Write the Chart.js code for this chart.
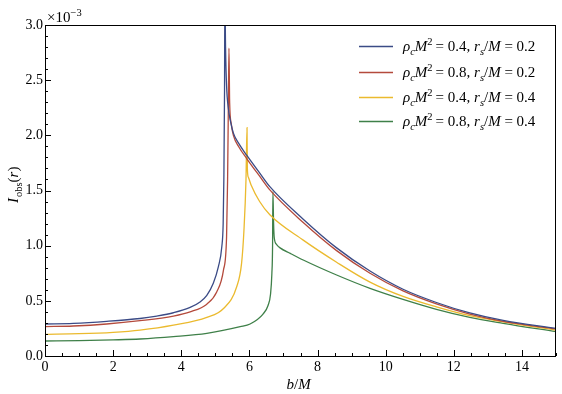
<!DOCTYPE html>
<html>
<head>
<meta charset="utf-8">
<script src="https://cdn.jsdelivr.net/npm/chart.js@4.4.1/dist/chart.umd.min.js"></script>
<style>
  html, body { margin: 0; padding: 0; background: #fff; }
  #wrap { width: 562px; height: 394px; }
</style>
</head>
<body>
<div id="wrap"><canvas id="chart"></canvas></div>
<script>
// intensity I_obs in units of 1e-3, b in units of M
const b1 = [0, 0.83, 1.81, 2.79, 3.28, 3.77, 4.26, 4.55, 4.75, 4.94, 5.09, 5.19, 5.23, 5.25, 5.27, 5.28, 5.30, 5.33, 5.38, 5.45, 5.53, 5.7, 5.92, 6.31, 6.6, 7.58, 8.56, 9.54, 10.51, 11.49, 12.47, 13.45, 15]
const i1 = [0.29, 0.296, 0.314, 0.34, 0.362, 0.392, 0.44, 0.49, 0.55, 0.66, 0.81, 0.99, 1.2, 1.6, 2.4, 3.3, 2.8, 2.45, 2.25, 2.12, 2.02, 1.92, 1.82, 1.655, 1.535, 1.24, 0.98, 0.77, 0.605, 0.485, 0.39, 0.322, 0.25]

const b2 = [0, 0.83, 1.81, 2.79, 3.77, 4.26, 4.75, 5.04, 5.24, 5.33, 5.36, 5.38, 5.40, 5.42, 5.47, 5.53, 5.7, 5.92, 6.31, 6.6, 7.58, 8.56, 9.54, 10.51, 11.49, 12.47, 13.45, 15]
const i2 = [0.266, 0.272, 0.29, 0.32, 0.362, 0.40, 0.47, 0.58, 0.78, 1.08, 1.6, 2.2, 2.79, 2.3, 2.1, 2.0, 1.89, 1.79, 1.625, 1.505, 1.21, 0.955, 0.75, 0.59, 0.472, 0.38, 0.314, 0.245]

const b3 = [0, 1, 2, 2.79, 3.77, 4.75, 5.24, 5.63, 5.77, 5.84, 5.9, 5.93, 5.94, 5.97, 6.05, 6.3, 6.6, 7.58, 8.56, 9.54, 10.51, 11.49, 12.47, 13.45, 15]
const i3 = [0.196, 0.202, 0.215, 0.235, 0.28, 0.35, 0.43, 0.63, 0.84, 1.14, 1.6, 2.07, 1.7, 1.62, 1.55, 1.40, 1.28, 1.05, 0.85, 0.67, 0.54, 0.445, 0.365, 0.31, 0.235]

const b4 = [0, 1, 2, 2.79, 3.77, 4.75, 5.73, 6.02, 6.4, 6.55, 6.62, 6.66, 6.68, 6.69, 6.71, 6.73, 6.8, 6.9, 7.2, 7.58, 8.56, 9.54, 10.51, 11.49, 12.47, 13.45, 15]
const i4 = [0.136, 0.139, 0.146, 0.154, 0.175, 0.205, 0.266, 0.29, 0.38, 0.46, 0.56, 0.75, 1.0, 1.49, 1.2, 1.07, 1.01, 0.98, 0.93, 0.87, 0.734, 0.613, 0.513, 0.423, 0.35, 0.296, 0.22]

const rhoValues = ['0.4', '0.8', '0.4', '0.8']
const rsValues = ['0.2', '0.2', '0.4', '0.4']
const colors = ['#3b4b86', '#b44a3c', '#ebba2e', '#3f8049']

const xTicks = [0, 2, 4, 6, 8, 10, 12, 14]
const yTicks = [0, 0.5, 1.0, 1.5, 2.0, 2.5, 3.0]

const serif = "'Liberation Serif', 'DejaVu Serif', serif"

const toPoints = (bs, is) => bs.map((b, k) => ({ x: b, y: is[k] }))
const series = [[b1, i1], [b2, i2], [b3, i3], [b4, i4]]

function drawRich(ctx, x, y, parts, size) {
  let cx = x
  parts.forEach(p => {
    const s = p.sub || p.sup ? size * 0.7 : size
    ctx.font = (p.it ? 'italic ' : '') + s + 'px ' + serif
    let dy = 0
    if (p.sub) dy = size * 0.28
    if (p.sup) dy = -size * 0.42
    ctx.fillText(p.t, cx, y + dy)
    cx += ctx.measureText(p.t).width + (p.gap || 0)
  })
  return cx
}

const decor = {
  id: 'decor',
  afterDraw(chart) {
    const ctx = chart.ctx
    const a = chart.chartArea
    const xs = chart.scales.x
    const ys = chart.scales.y
    ctx.save()
    ctx.strokeStyle = '#000'
    ctx.lineWidth = 1
    ctx.strokeRect(Math.round(a.left) + 0.5, Math.round(a.top) + 0.5, Math.round(a.right - a.left) - 1, Math.round(a.bottom - a.top))

    // inward ticks, bottom and left
    ctx.beginPath()
    for (let k = 0; k <= 30; k++) {
      const v = k * 0.5
      const px = Math.round(xs.getPixelForValue(v)) + 0.5
      const len = k % 4 === 0 ? 6 : 3
      ctx.moveTo(px, a.bottom)
      ctx.lineTo(px, a.bottom - len)
    }
    for (let k = 0; k <= 30; k++) {
      const v = k * 0.1
      const py = Math.round(ys.getPixelForValue(v)) + 0.5
      const len = k % 5 === 0 ? 6 : 3
      ctx.moveTo(a.left, py)
      ctx.lineTo(a.left + len, py)
    }
    ctx.stroke()

    ctx.fillStyle = '#000'
    ctx.textAlign = 'left'
    ctx.textBaseline = 'alphabetic'
    // multiplier
    drawRich(ctx, a.left + 2, a.top - 3, [{ t: '×10' }, { t: '−3', sup: true }], 15)

    // y title
    ctx.save()
    ctx.translate(18, 203)
    ctx.rotate(-Math.PI / 2)
    drawRich(ctx, 0, 0, [{ t: 'I', it: true, gap: 1 }, { t: 'obs', sub: true }, { t: '(' }, { t: 'r', it: true }, { t: ')' }], 15)
    ctx.restore()

    // x title
    drawRich(ctx, (a.left + a.right) / 2 - 14, a.bottom + 33, [{ t: 'b', it: true }, { t: '/' }, { t: 'M', it: true }], 15)

    // legend
    const lx = a.right - 197
    const rows = [46, 72, 97, 121]
    chart.data.datasets.forEach((ds, k) => {
      const y = rows[k]
      ctx.strokeStyle = ds.borderColor
      ctx.lineWidth = 1.4
      ctx.beginPath()
      ctx.moveTo(lx, y + 0.5)
      ctx.lineTo(lx + 34, y + 0.5)
      ctx.stroke()
      drawRich(ctx, lx + 44, y + 5, [
        { t: 'ρ', it: true }, { t: 'c', it: true, sub: true }, { t: 'M', it: true }, { t: '2', sup: true, gap: 3 },
        { t: '= ' + rhoValues[k] + ', ' }, { t: 'r', it: true }, { t: 's', it: true, sub: true }, { t: '/' },
        { t: 'M', it: true }, { t: ' = ' + rsValues[k] }
      ], 15)
    })
    ctx.restore()
  }
}

new Chart(document.getElementById('chart'), {
  type: 'line',
  plugins: [decor],
  data: {
    datasets: series.map(([bs, is], k) => ({
      label: 'ρcM² = ' + rhoValues[k] + ', rs/M = ' + rsValues[k],
      data: toPoints(bs, is),
      borderColor: colors[k],
      backgroundColor: colors[k],
      borderWidth: 1.3,
      pointRadius: 0,
      cubicInterpolationMode: 'monotone',
      fill: false
    }))
  },
  options: {
    responsive: true,
    maintainAspectRatio: false,
    animation: false,
    layout: { padding: { top: 25, right: 6, left: 0, bottom: 0 } },
    plugins: { legend: { display: false }, tooltip: { enabled: false } },
    scales: {
      x: {
        type: 'linear',
        min: 0,
        max: 15,
        grid: { display: false, drawTicks: false },
        border: { display: false },
        afterFit: s => { s.height = 38 },
        afterBuildTicks: s => { s.ticks = xTicks.map(v => ({ value: v })) },
        ticks: { color: '#000', padding: 3, maxRotation: 0, font: { family: serif, size: 14 } }
      },
      y: {
        type: 'linear',
        min: 0,
        max: 3,
        grid: { display: false, drawTicks: false },
        border: { display: false },
        afterFit: s => { s.width = 45 },
        afterBuildTicks: s => { s.ticks = yTicks.map(v => ({ value: v })) },
        ticks: { color: '#000', padding: 2, font: { family: serif, size: 14 }, callback: v => v.toFixed(1) }
      }
    }
  }
})
</script>
</body>
</html>
